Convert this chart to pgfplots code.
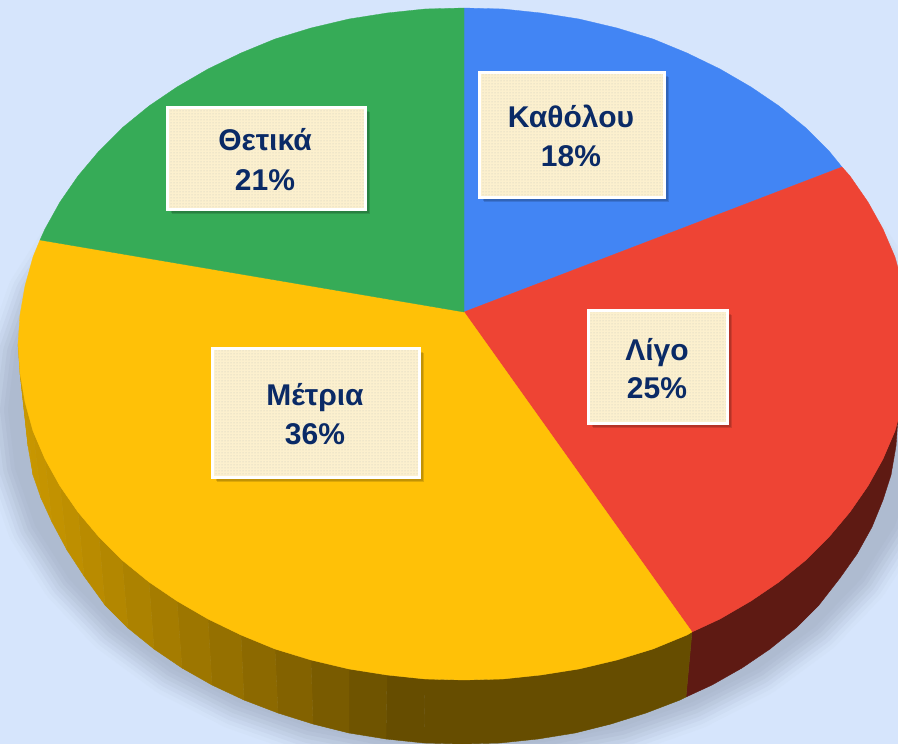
\documentclass[border=0pt]{standalone}
\usepackage{fontspec}
\setmainfont{Liberation Sans}
\usepackage{pgfplots}
\pgfplotsset{compat=1.18}
\usetikzlibrary{patterns}
\definecolor{Bg}{HTML}{D6E5FC}
\definecolor{Shad}{HTML}{AEBBD0}
\definecolor{Blue}{HTML}{4285F4}
\definecolor{Red}{HTML}{EE4434}
\definecolor{Yel}{HTML}{FFC107}
\definecolor{Grn}{HTML}{36AB57}
\definecolor{SideL}{HTML}{C99700}
\definecolor{SideD}{HTML}{664D00}
\definecolor{SideR}{HTML}{5E1A13}
\definecolor{Cream}{HTML}{FCF0CE}
\definecolor{Dot}{HTML}{C4C6BC}
\definecolor{Navy}{HTML}{0A2A66}
\pgfplotstableread{
x y
920 410
913 352
893 295
859 242
814 195
757 153
692 120
621 95
544 80
465 75
386 80
309 95
238 120
173 153
116 195
71 242
37 295
17 352
10 410
17 468
37 525
71 578
116 625
173 667
238 700
309 725
386 740
465 745
544 740
621 725
692 700
757 667
814 625
859 578
893 525
913 468
}\shadowtable
\newcommand{\strip}[9]{\addplot[fill=SideL!#1!SideD,draw=SideL!#1!SideD,line width=.4pt] coordinates {(#2,#3) (#4,#5) (#6,#7) (#8,#9)} -- cycle;}
\newcommand{\labelbox}[9]{%
  \fill[black,opacity=.13,xshift=2pt,yshift=-2pt] (axis cs:#1,#2) rectangle (axis cs:#3,#4);
  \fill[black,opacity=.13,xshift=3.5pt,yshift=-3.5pt] (axis cs:#1,#2) rectangle (axis cs:#3,#4);
  \fill[black,opacity=.13,xshift=5pt,yshift=-5pt] (axis cs:#1,#2) rectangle (axis cs:#3,#4);
  \fill[Cream] (axis cs:#1,#2) rectangle (axis cs:#3,#4);
  \fill[pattern=dots,pattern color=Dot] (axis cs:#1,#2) rectangle (axis cs:#3,#4);
  \draw[white,line width=3pt] (axis cs:#1,#2) rectangle (axis cs:#3,#4);
  \labeltext{#5}{#6}{#7}{#8}{#9}}
\newcommand{\labeltext}[5]{%
  \node[anchor=base,text=Navy,inner sep=0pt,font=\fontsize{30}{36}\selectfont\bfseries] at (axis cs:#1,#2) {#4};
  \node[anchor=base,text=Navy,inner sep=0pt,font=\fontsize{30}{36}\selectfont\bfseries] at (axis cs:#1,#3) {#5};}
\begin{document}
\begin{tikzpicture}
\useasboundingbox (0,0) rectangle (898pt,744pt);
\begin{axis}[at={(0pt,0pt)},anchor=south west,width=898pt,height=744pt,scale only axis,
  xmin=0,xmax=898,ymin=0,ymax=744,y dir=reverse,hide axis,clip=true]
% background
\addplot[fill=Bg,draw=Bg] coordinates {(0,0) (898,0) (898,744) (0,744)} -- cycle;
% shadow
\addplot[draw=Shad!8!Bg,line width=60pt,line join=round] table {\shadowtable} -- cycle;
\addplot[draw=Shad!20!Bg,line width=52pt,line join=round] table {\shadowtable} -- cycle;
\addplot[draw=Shad!35!Bg,line width=44pt,line join=round] table {\shadowtable} -- cycle;
\addplot[draw=Shad!50!Bg,line width=36pt,line join=round] table {\shadowtable} -- cycle;
\addplot[draw=Shad!65!Bg,line width=28pt,line join=round] table {\shadowtable} -- cycle;
\addplot[draw=Shad!80!Bg,line width=20pt,line join=round] table {\shadowtable} -- cycle;
\addplot[draw=Shad!92!Bg,line width=12pt,line join=round] table {\shadowtable} -- cycle;
\addplot[fill=Shad,draw=Shad,line width=4pt,line join=round] table {\shadowtable} -- cycle;
% side, red
\addplot[fill=SideR,draw=SideR,line width=.4pt] coordinates {(910,344) (908,373) (903,402) (895,431) (883,459) (868,486) (850,512) (829,537) (806,560) (779,582) (751,601) (720,619) (692,632) (686,697) (712,685) (742,668) (770,649) (796,628) (819,605) (840,578) (857,554) (872,527) (883,500) (891,475) (896,446) (898,418)} -- cycle;
% side, yellow strips from dark to light
\addplot[fill=SideD,draw=SideD,line width=.4pt] coordinates {(692,632) (687,635) (653,649) (617,660) (579,669) (541,675) (503,679) (464,680) (425,679) (424,743) (462,744) (500,743) (538,739) (575,733) (611,724) (646,713) (680,700) (686,697)} -- cycle;
\strip{0}{425}{679}{387}{675}{386}{739}{424}{743}
\strip{9}{387}{675}{349}{669}{349}{733}{386}{739}
\strip{19}{349}{669}{311}{660}{313}{724}{349}{733}
\strip{29}{311}{660}{275}{649}{278}{713}{313}{724}
\strip{38}{275}{649}{241}{635}{244}{700}{278}{713}
\strip{47}{241}{635}{208}{619}{212}{685}{244}{700}
\strip{56}{208}{619}{177}{601}{182}{668}{212}{685}
\strip{64}{177}{601}{149}{582}{154}{649}{182}{668}
\strip{71}{149}{582}{122}{560}{128}{628}{154}{649}
\strip{78}{122}{560}{99}{537}{105}{605}{128}{628}
\strip{84}{99}{537}{78}{512}{84}{576}{105}{605}
\strip{89}{78}{512}{60}{486}{67}{550}{84}{576}
\strip{93}{60}{486}{45}{459}{52}{522}{67}{550}
\strip{96}{45}{459}{33}{431}{41}{498}{52}{522}
\strip{98}{33}{431}{25}{402}{33}{475}{41}{498}
\strip{100}{25}{402}{20}{373}{28}{446}{33}{475}
\strip{100}{20}{373}{18}{344}{26}{418}{28}{446}
% top slices
\addplot[fill=Blue,draw=Blue,line width=.3pt] coordinates {(464,312) (464,8) (503,9) (541,13) (579,19) (617,28) (653,39) (687,53) (720,69) (751,87) (779,106) (806,128) (829,151) (842,167)} -- cycle;
\addplot[fill=Red,draw=Red,line width=.3pt] coordinates {(464,312) (842,167) (850,176) (868,202) (883,229) (895,257) (903,286) (908,315) (910,344) (908,373) (903,402) (895,431) (883,459) (868,486) (850,512) (829,537) (806,560) (779,582) (751,601) (720,619) (692,632)} -- cycle;
\addplot[fill=Yel,draw=Yel,line width=.3pt] coordinates {(464,312) (692,632) (687,635) (653,649) (617,660) (579,669) (541,675) (503,679) (464,680) (425,679) (387,675) (349,669) (311,660) (275,649) (241,635) (208,619) (177,601) (149,582) (122,560) (99,537) (78,512) (60,486) (45,459) (33,431) (25,402) (20,373) (18,344) (20,315) (25,286) (33,257) (40,240)} -- cycle;
\addplot[fill=Grn,draw=Grn,line width=.3pt] coordinates {(464,312) (40,240) (45,229) (60,202) (78,176) (99,151) (122,128) (149,106) (177,87) (208,69) (241,53) (275,39) (311,28) (349,19) (387,13) (425,9) (464,8)} -- cycle;
% labels
\labelbox{479}{72}{664}{197}{571}{127}{166}{Καθόλου}{18\%}
\labelbox{588}{310}{727}{423}{657}{360}{398}{Λίγο}{25\%}
\labelbox{212}{348}{419}{477}{315}{405}{444}{Μέτρια}{36\%}
\labelbox{167}{107}{365}{209}{265}{150}{190}{Θετικά}{21\%}
\end{axis}
\end{tikzpicture}
\end{document}
